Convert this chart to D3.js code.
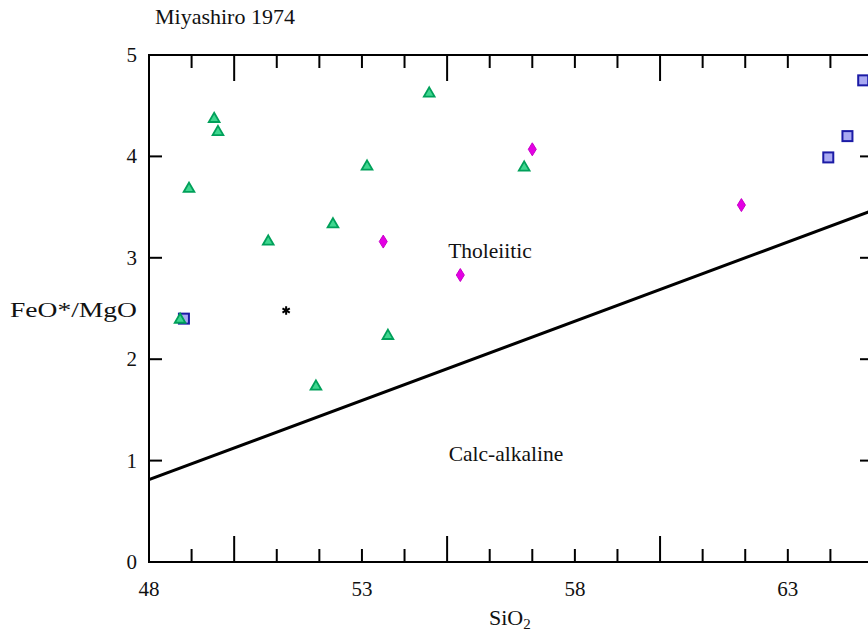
<!DOCTYPE html>
<html>
<head>
<meta charset="utf-8">
<script src="https://cdn.jsdelivr.net/npm/d3@7"></script>
<style>
  body { margin: 0; background: #fff; overflow: hidden; }
  text { font-family: "Liberation Serif", "Times New Roman", serif; fill: #111; }
</style>
</head>
<body>
<script>
// data
const triangleSiO2 = [49.53, 49.62, 48.94, 50.80, 48.73, 51.92, 54.58, 56.81, 53.12, 52.32, 53.61];
const triangleRatio = [4.37, 4.24, 3.68, 3.16, 2.39, 1.73, 4.62, 3.89, 3.90, 3.33, 2.23];

const diamondSiO2 = [57.0, 53.5, 55.31, 61.91];
const diamondRatio = [4.07, 3.16, 2.83, 3.52];

const squareSiO2 = [48.82, 63.95, 64.40, 64.77];
const squareRatio = [2.40, 3.99, 4.20, 4.75];

const starSiO2 = [51.22];
const starRatio = [2.48];

// Miyashiro boundary: SiO2 = 6.4 * FeO*/MgO + 42.8
const boundarySiO2 = [48, 65];

const xTickLabels = [48, 53, 58, 63];
const yTickLabels = [0, 1, 2, 3, 4, 5];

const width = 868;
const height = 635;

const svg = d3.select("body").append("svg")
  .attr("width", width)
  .attr("height", height);

const x = d3.scaleLinear().domain([48, 65]).range([149, 873]);
const y = d3.scaleLinear().domain([0, 5]).range([562, 55]);

// frame
svg.append("rect")
  .attr("x", x(48)).attr("y", y(5))
  .attr("width", x(65) - x(48)).attr("height", y(0) - y(5))
  .attr("fill", "none").attr("stroke", "#000").attr("stroke-width", 2);

// x ticks (every unit, long ones at 50, 55, 60, 65)
const xTicks = d3.range(49, 65);
xTicks.forEach((v) => {
  const len = v % 5 === 0 ? 26 : 13;
  svg.append("line")
    .attr("x1", x(v)).attr("x2", x(v))
    .attr("y1", y(0)).attr("y2", y(0) - len)
    .attr("stroke", "#000").attr("stroke-width", 2);
  svg.append("line")
    .attr("x1", x(v)).attr("x2", x(v))
    .attr("y1", y(5)).attr("y2", y(5) + len)
    .attr("stroke", "#000").attr("stroke-width", 2);
});

// y ticks
yTickLabels.slice(1, 5).forEach((v) => {
  svg.append("line")
    .attr("x1", x(48)).attr("x2", x(48) + 13)
    .attr("y1", y(v)).attr("y2", y(v))
    .attr("stroke", "#000").attr("stroke-width", 2);
  svg.append("line")
    .attr("x1", x(65)).attr("x2", x(65) - 13)
    .attr("y1", y(v)).attr("y2", y(v))
    .attr("stroke", "#000").attr("stroke-width", 2);
});

svg.selectAll(".xlab")
  .data(xTickLabels)
  .join("text")
  .attr("class", "xlab")
  .attr("x", (d) => x(d))
  .attr("y", 596)
  .attr("text-anchor", "middle")
  .attr("font-size", "21px")
  .text((d) => d);

svg.selectAll(".ylab")
  .data(yTickLabels)
  .join("text")
  .attr("class", "ylab")
  .attr("x", 137)
  .attr("y", (d) => y(d) + 7)
  .attr("text-anchor", "end")
  .attr("font-size", "21px")
  .text((d) => d);

// boundary line
svg.append("clipPath").attr("id", "plotclip")
  .append("rect")
  .attr("x", x(48)).attr("y", y(5))
  .attr("width", x(65) - x(48)).attr("height", y(0) - y(5));

svg.append("line")
  .attr("clip-path", "url(#plotclip)")
  .attr("x1", x(boundarySiO2[0])).attr("y1", y((boundarySiO2[0] - 42.8) / 6.4))
  .attr("x2", x(boundarySiO2[1])).attr("y2", y((boundarySiO2[1] - 42.8) / 6.4))
  .attr("stroke", "#000").attr("stroke-width", 3);

// labels
svg.append("text").attr("x", 490).attr("y", 258)
  .attr("text-anchor", "middle").attr("font-size", "21.5px").text("Tholeiitic");
svg.append("text").attr("x", 506).attr("y", 461)
  .attr("text-anchor", "middle").attr("font-size", "21.5px").text("Calc-alkaline");

svg.append("text").attr("x", 155).attr("y", 24)
  .attr("font-size", "22px").text("Miyashiro 1974");

svg.append("text").attr("x", 10).attr("y", 317)
  .attr("font-size", "22px")
  .attr("textLength", 127)
  .attr("lengthAdjust", "spacingAndGlyphs")
  .text("FeO*/MgO");

const sio2 = svg.append("text").attr("x", 489).attr("y", 625).attr("font-size", "22px");
sio2.append("tspan").text("SiO");
sio2.append("tspan").attr("font-size", "15px").attr("dy", 4).text("2");

// points
const pts = svg.append("g").attr("clip-path", "url(#plotclip)");

pts.selectAll(".sq")
  .data(squareSiO2.map((d, i) => [d, squareRatio[i]]))
  .join("rect")
  .attr("class", "sq")
  .attr("x", (d) => x(d[0]) - 5)
  .attr("y", (d) => y(d[1]) - 5)
  .attr("width", 10)
  .attr("height", 10)
  .attr("fill", "#a9a9f2")
  .attr("stroke", "#1b1ba6")
  .attr("stroke-width", 2);

pts.selectAll(".tri")
  .data(triangleSiO2.map((d, i) => [d, triangleRatio[i]]))
  .join("path")
  .attr("class", "tri")
  .attr("d", d3.symbol().type(d3.symbolTriangle).size(50))
  .attr("transform", (d) => `translate(${x(d[0])},${y(d[1])})`)
  .attr("fill", "#3fd68f")
  .attr("stroke", "#00a05a")
  .attr("stroke-width", 1.8);

pts.selectAll(".dia")
  .data(diamondSiO2.map((d, i) => [d, diamondRatio[i]]))
  .join("path")
  .attr("class", "dia")
  .attr("d", "M0,-6.5L4,0L0,6.5L-4,0Z")
  .attr("transform", (d) => `translate(${x(d[0])},${y(d[1])})`)
  .attr("fill", "#e400e4")
  .attr("stroke", "#c800c8")
  .attr("stroke-width", 1);

pts.selectAll(".star")
  .data(starSiO2.map((d, i) => [d, starRatio[i]]))
  .join("path")
  .attr("class", "star")
  .attr("d", d3.symbol().type(d3.symbolAsterisk).size(50))
  .attr("transform", (d) => `translate(${x(d[0])},${y(d[1])})`)
  .attr("fill", "none")
  .attr("stroke", "#000")
  .attr("stroke-width", 2);
</script>
</body>
</html>
